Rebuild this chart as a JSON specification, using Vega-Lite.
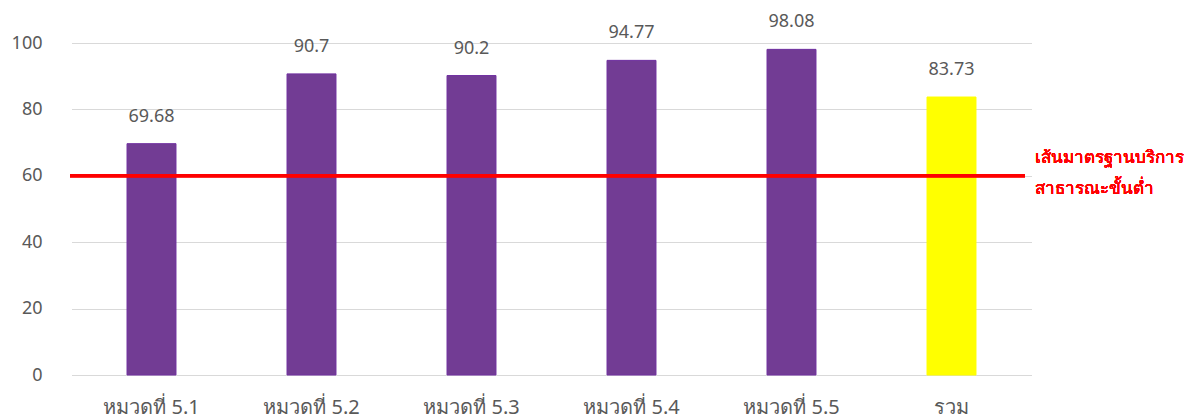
{
  "$schema": "https://vega.github.io/schema/vega-lite/v6.json",
  "width": 955,
  "height": 332,
  "autosize": {"type": "none"},
  "padding": {"left": 70, "top": 43, "right": 170, "bottom": 44},
  "background": "white",
  "config": {
    "view": {"stroke": null},
    "font": "Noto Sans"
  },
  "data": {
    "values": [
      {"category": "หมวดที่ 5.1", "score": 69.68, "label": "69.68", "group": "หมวด"},
      {"category": "หมวดที่ 5.2", "score": 90.7, "label": "90.7", "group": "หมวด"},
      {"category": "หมวดที่ 5.3", "score": 90.2, "label": "90.2", "group": "หมวด"},
      {"category": "หมวดที่ 5.4", "score": 94.77, "label": "94.77", "group": "หมวด"},
      {"category": "หมวดที่ 5.5", "score": 98.08, "label": "98.08", "group": "หมวด"},
      {"category": "รวม", "score": 83.73, "label": "83.73", "group": "รวม"}
    ]
  },
  "encoding": {
    "x": {
      "field": "category",
      "type": "nominal",
      "sort": null,
      "scale": {"paddingInner": 0, "paddingOuter": 0, "range": [1.5, 961.5]},
      "axis": {
        "title": null,
        "labelAngle": 0,
        "labelFontSize": 20,
        "labelColor": "#595959",
        "labelPadding": 22,
        "ticks": false,
        "domain": false,
        "grid": false
      }
    },
    "y": {
      "field": "score",
      "type": "quantitative",
      "scale": {"domain": [0, 100], "nice": false},
      "axis": {
        "title": null,
        "values": [0, 20, 40, 60, 80, 100],
        "labelFontSize": 18,
        "labelColor": "#595959",
        "labelPadding": 28,
        "ticks": false,
        "domain": false,
        "gridColor": "#D9D9D9",
        "gridWidth": 1
      }
    }
  },
  "layer": [
    {
      "mark": {"type": "bar", "width": {"band": 0.306}, "strokeWidth": 1},
      "encoding": {
        "color": {
          "field": "group",
          "type": "nominal",
          "scale": {"domain": ["หมวด", "รวม"], "range": ["#723C94", "#FFFF00"]},
          "legend": null
        },
        "stroke": {
          "field": "group",
          "type": "nominal",
          "scale": {"domain": ["หมวด", "รวม"], "range": ["#7030A0", "#FFFF00"]},
          "legend": null
        }
      }
    },
    {
      "mark": {"type": "text", "baseline": "bottom", "dy": -18, "fontSize": 18, "color": "#595959"},
      "encoding": {"text": {"field": "label"}}
    },
    {
      "mark": {"type": "rule", "color": "#FF0000", "strokeWidth": 3},
      "encoding": {"y": {"datum": 60}, "x": null}
    },
    {
      "mark": {
        "type": "text",
        "align": "left",
        "baseline": "middle",
        "dx": 83,
        "dy": -18,
        "lineHeight": 31,
        "fontSize": 17,
        "fontWeight": "normal",
        "color": "#FF0000",
        "text": ["เส้นมาตรฐานบริการ", "สาธารณะขั้นต่ำ"]
      },
      "encoding": {"x": {"datum": "รวม"}, "y": {"datum": 60}}
    }
  ]
}
